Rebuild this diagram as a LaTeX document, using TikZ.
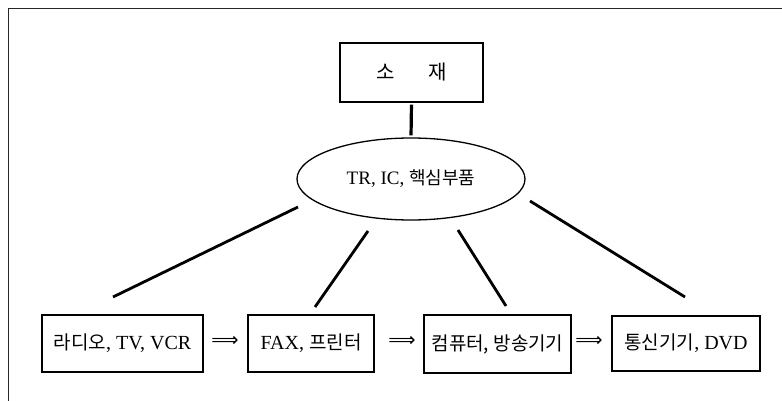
\documentclass[tikz,border=0pt]{standalone}
\usepackage{fontspec}
\setmainfont{Liberation Serif}
\newfontfamily\kr{Noto Sans CJK KR}
\newfontfamily\symf{DejaVu Sans}
\newcommand\krtext[2]{{\kr\fontsize{#1}{#1}\selectfont #2}}
\usetikzlibrary{shapes.geometric}
\tikzset{
  frame/.style={line width=1pt, draw=black!85},
  box/.style={draw, line width=1.4pt, inner sep=0pt, font=\fontsize{20}{22}\selectfont},
  ell/.style={draw, ellipse, line width=1.3pt, inner sep=0pt, font=\fontsize{19}{21}\selectfont},
  link/.style={line width=2.8pt},
  flow/.style={inner sep=0pt, font=\symf\fontsize{19}{19}\selectfont}
}
\begin{document}
\begin{tikzpicture}[x=1pt,y=-1pt]
\useasboundingbox (0,0) rectangle (782,401);
\draw[frame] (782,9) -- (8,9) -- (8,401);

\node[box, minimum width=143pt, minimum height=59pt] (top) at (411.5,72.5)
  {\krtext{20}{소}\hspace{33pt}\krtext{20}{재}};
\node[ell, minimum width=228pt, minimum height=82pt] (ell) at (411,179)
  {TR, IC, \krtext{18}{핵심부품}};

\node[box, minimum width=161pt, minimum height=57pt] (b1) at (122.5,343.5)
  {\krtext{19}{라디오}, TV, VCR};
\node[box, minimum width=126pt, minimum height=57pt] (b2) at (311,343.5)
  {FAX, \krtext{19}{프린터}};
\node[box, minimum width=147pt, minimum height=58pt] (b3) at (497.5,344)
  {\krtext{19}{컴퓨터, 방송기기}};
\node[box, minimum width=148pt, minimum height=55pt] (b4) at (686,343.5)
  {\krtext{19}{통신기기}, DVD};

\node[flow] (a1) at (225,341) {⟹};
\node[flow] (a2) at (402,341) {⟹};
\node[flow] (a3) at (589,341) {⟹};

\draw[link, line width=3.2pt, shorten <=2pt, shorten >=2pt] (top.south) -- (ell.north);

\coordinate (l1s) at (298,207);
\coordinate (l1e) at (113,297);
\coordinate (l2s) at (368,231);
\coordinate (l2e) at (315,307);
\coordinate (l3s) at (458,230);
\coordinate (l3e) at (506,306);
\coordinate (l4s) at (530,201);
\coordinate (l4e) at (685,297);
\draw[link] (l1s) -- (l1e);
\draw[link] (l2s) -- (l2e);
\draw[link] (l3s) -- (l3e);
\draw[link] (l4s) -- (l4e);
\end{tikzpicture}
\end{document}
